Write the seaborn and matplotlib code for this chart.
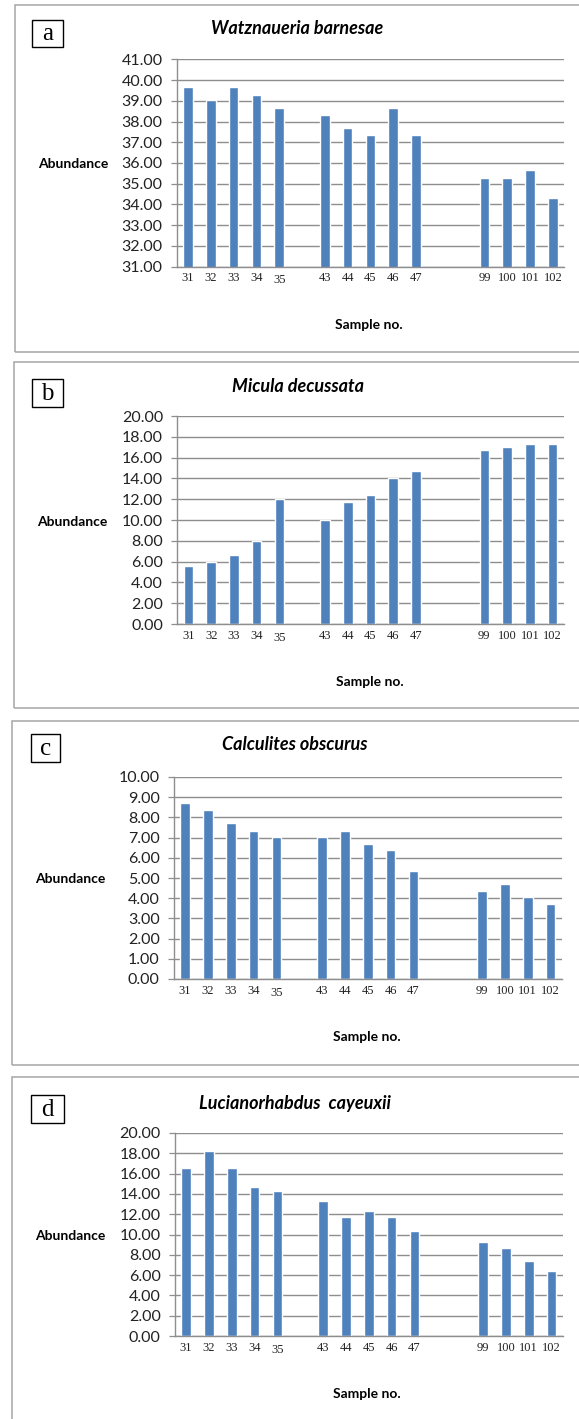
import numpy as np
import pandas as pd
import matplotlib
matplotlib.use("Agg")
import matplotlib.pyplot as plt
import matplotlib.transforms as mtransforms
from matplotlib.patches import Rectangle
import seaborn as sns

# ---------------- data ----------------
samples = ['31', '32', '33', '34', '35', '43', '44', '45', '46', '47', '99', '100', '101', '102']
slots = ['31', '32', '33', '34', '35', 'gap1', '43', '44', '45', '46', '47', 'gap2', 'gap3',
         '99', '100', '101', '102']
watznaueria = [39.65, 39.04, 39.65, 39.30, 38.67, 38.32, 37.69, 37.33, 38.67, 37.33, 35.29, 35.29, 35.65, 34.31]
micula = [5.58, 5.96, 6.60, 8.01, 12.02, 10.00, 11.70, 12.37, 14.07, 14.74, 16.70, 17.02, 17.34, 17.34]
calculites = [8.73, 8.37, 7.71, 7.35, 7.02, 7.02, 7.35, 6.69, 6.39, 5.37, 4.37, 4.71, 4.05, 3.71]
lucianorhabdus = [16.60, 18.25, 16.60, 14.66, 14.30, 13.34, 11.70, 12.29, 11.70, 10.38, 9.29, 8.70, 7.41, 6.42]

letters = ['a', 'b', 'c', 'd']
titles = ['Watznaueria barnesae', 'Micula decussata', 'Calculites obscurus', 'Lucianorhabdus  cayeuxii']
series = [watznaueria, micula, calculites, lucianorhabdus]
y_ranges = [(31, 41, 1), (0, 20, 2), (0, 10, 1), (0, 20, 2)]

# ---------------- style ----------------
sns.set_theme(style="white")
plt.rcParams['font.family'] = ['Lato', 'DejaVu Sans']

W, H = 579, 1419
fig = plt.figure(figsize=(W / 100, H / 100), dpi=100)
fig.patch.set_facecolor('white')

def fx(px):
    return px / W

def fy(py):
    return 1 - py / H

BAR = '#4f81bd'
GRID = '#8e8e8e'

layout = [
    dict(ax=(176.5, 564.3, 59.3, 266.7), box=(14.5, 4.7, 352), lbox=(32, 20, 63, 47),
         title=(297, 29), ylab=(73, 164), xlab=(369, 325)),
    dict(ax=(177, 564, 416, 624), box=(14, 362, 708), lbox=(32, 379, 63, 407),
         title=(298, 386), ylab=(72, 522), xlab=(370, 682)),
    dict(ax=(173.6, 562, 777, 979), box=(11.7, 721, 1065), lbox=(30.6, 734, 60, 762),
         title=(295, 745), ylab=(70, 879), xlab=(367, 1037)),
    dict(ax=(174.7, 563, 1133, 1336), box=(11.7, 1077, 1440), lbox=(30.5, 1095, 63.5, 1123),
         title=(295, 1103), ylab=(70, 1236), xlab=(367, 1394)),
]

for i in range(4):
    L = layout[i]
    l, r, t, b = L['ax']
    ax = fig.add_axes([fx(l), fy(b), fx(r) - fx(l), fy(t) - fy(b)])

    df = pd.DataFrame({'sample': samples, 'value': series[i]})
    sns.barplot(data=df, x='sample', y='value', order=slots, color=BAR,
                saturation=1, width=0.42, ax=ax, errorbar=None)

    ymin, ymax, step = y_ranges[i]
    ax.set_ylim(ymin, ymax)
    ax.set_xlim(-0.5, len(slots) - 0.5)
    yt = np.arange(ymin, ymax + step / 2, step)
    ax.set_yticks(yt)
    ax.set_yticklabels([f"{v:.2f}" for v in yt], fontsize=11.5, color='#222222')

    ax.set_xticks(range(len(slots)))
    ax.set_xticklabels(['' if s.startswith('gap') else s for s in slots],
                       fontsize=9, family=['Liberation Serif'], color='#222222')
    ax.set_xticks(np.arange(-0.5, len(slots), 1.0), minor=True)
    ax.tick_params(axis='x', which='major', length=0, pad=4)
    ax.tick_params(axis='x', which='minor', length=4, width=0.9, color=GRID, direction='out')
    ax.tick_params(axis='y', which='major', length=4, width=0.9, color=GRID, direction='out', pad=6, left=True)

    for lab in ax.get_xticklabels():
        if lab.get_text() == '35':
            lab.set_transform(lab.get_transform() + mtransforms.ScaledTranslation(0, -2 / 100, fig.dpi_scale_trans))

    ax.set_xlabel('')
    ax.set_ylabel('')
    ax.yaxis.grid(True, color=GRID, lw=1.0)
    ax.xaxis.grid(False)
    ax.set_axisbelow(True)
    for side in ['top', 'right']:
        ax.spines[side].set_visible(False)
    for side in ['left', 'bottom']:
        ax.spines[side].set_color(GRID)
        ax.spines[side].set_linewidth(1.0)
    ax.set_facecolor('none')

    bx, bt, bb = L['box']
    fig.patches.append(Rectangle((fx(bx), fy(bb)), fx(W + 20) - fx(bx), fy(bt) - fy(bb),
                                 transform=fig.transFigure, fill=False,
                                 edgecolor='#a6a6a6', lw=1.1, zorder=0))
    x0, y0, x1, y1 = L['lbox']
    fig.patches.append(Rectangle((fx(x0), fy(y1)), fx(x1) - fx(x0), fy(y0) - fy(y1),
                                 transform=fig.transFigure, fill=False,
                                 edgecolor='black', lw=1.0))
    fig.text(fx((x0 + x1) / 2), fy((y0 + y1) / 2 + 1), letters[i], ha='center', va='center',
             fontsize=18, family=['Liberation Serif'], color='black')

    tx, ty = L['title']
    fig.text(fx(tx), fy(ty), titles[i], ha='center', va='center', fontsize=13,
             fontweight='bold', style='italic', color='black')
    yx, yy = L['ylab']
    fig.text(fx(yx), fy(yy), 'Abundance', ha='center', va='center', fontsize=10,
             fontweight='bold', color='black')
    sx, sy = L['xlab']
    fig.text(fx(sx), fy(sy), 'Sample no.', ha='center', va='center', fontsize=10,
             fontweight='bold', color='black')

fig.savefig('out.png', dpi=100, facecolor='white')
